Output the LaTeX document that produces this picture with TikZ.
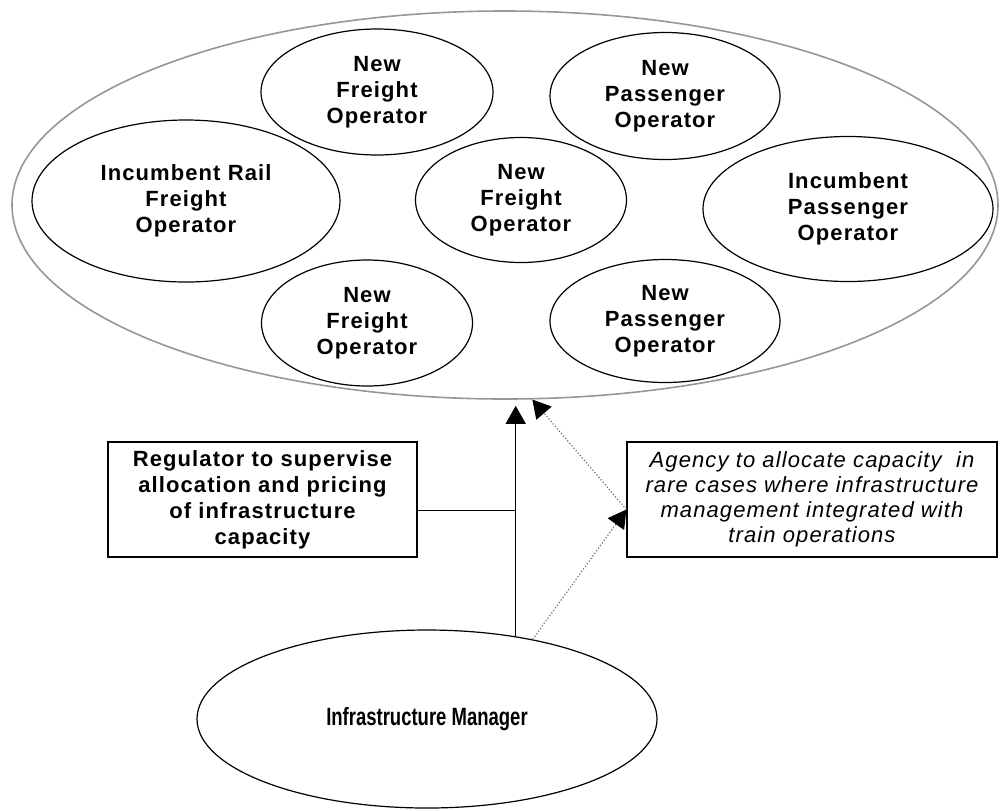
\documentclass[tikz,border=0pt]{standalone}
\usepackage{fontspec}
\setmainfont{Liberation Sans}
\newfontfamily\opfont[LetterSpace=5]{Liberation Sans}
\newfontfamily\imfont[FakeStretch=0.74]{Liberation Sans}
\usetikzlibrary{shapes.geometric,arrows.meta}
\definecolor{outergrey}{RGB}{150,150,150}
\definecolor{dotgrey}{RGB}{110,110,110}

\begin{document}
\begin{tikzpicture}[x=0.5pt, y=-0.5pt, line width=0.6pt,
  >={Triangle[length=9pt,width=10pt]}]

% operators, boxes and links
\tikzset{op/.style={ellipse, draw=black, inner sep=0pt, align=center,
                    font=\opfont\bfseries\fontsize{11}{13}\selectfont}}
\tikzset{rulebox/.style={draw=black, inner sep=0pt, align=center, minimum height=57.5pt}}
\tikzset{dotlink/.style={draw=dotgrey, densely dotted,
                         -{Triangle[length=9pt,width=10pt,color=black]}}}

\useasboundingbox (0,0) rectangle (1000,810);

% -----------------------------------------
% market of train operators
% -----------------------------------------
\node[ellipse, draw=outergrey, line width=0.8pt,
      minimum width=493pt, minimum height=194pt] (market) at (505,205) {};

\node[op, minimum width=116pt, minimum height=63pt] (nftop) at (377,92) {New\\Freight\\Operator};
\node[op, minimum width=115pt, minimum height=63.5pt] (nptop) at (665,96) {New\\Passenger\\Operator};
\node[op, minimum width=154pt, minimum height=81pt] (irf) at (186,201) {Incumbent Rail\\Freight\\Operator};
\node[op, minimum width=105.5pt, minimum height=62.5pt] (nfmid) at (521,200) {New\\Freight\\Operator};
\node[op, minimum width=145pt, minimum height=72.5pt] (ip) at (848,209) {Incumbent\\Passenger\\Operator};
\node[op, minimum width=105.5pt, minimum height=63pt] (nfbot) at (367,323) {New\\Freight\\Operator};
\node[op, minimum width=115pt, minimum height=61.5pt] (npbot) at (665,321) {New\\Passenger\\Operator};

% -----------------------------------------
% regulator and agency
% -----------------------------------------
\node[rulebox, minimum width=154.5pt, font=\opfont\bfseries\fontsize{11}{13}\selectfont]
  (reg) at (262.5,499.5) {Regulator to supervise\\allocation and pricing\\of infrastructure\\capacity};
\node[rulebox, minimum width=185pt, font=\opfont\itshape\fontsize{11}{12.5}\selectfont]
  (ag) at (812,499.5) {Agency to allocate capacity\ \ in\\rare cases where infrastructure\\management integrated with\\train operations};

% -----------------------------------------
% infrastructure manager
% -----------------------------------------
\node[ellipse, draw=black, inner sep=0pt, minimum width=230pt, minimum height=89pt,
      font=\imfont\bfseries\fontsize{12.5}{14}\selectfont] (im) at (427,719) {Infrastructure Manager};

% links
\coordinate (trunk) at (im.43);
\draw[->, shorten >=3pt] (trunk) -- (trunk |- market.south);
\draw ([yshift=-5.5pt]reg.east) -- ([yshift=-5.5pt]reg.east -| trunk);

\coordinate (agin) at ([yshift=-5pt]ag.west);
\draw[dotlink] (im.37) -- (agin);
\draw[dotlink] (agin) -- (market.-82);
\end{tikzpicture}
\end{document}
